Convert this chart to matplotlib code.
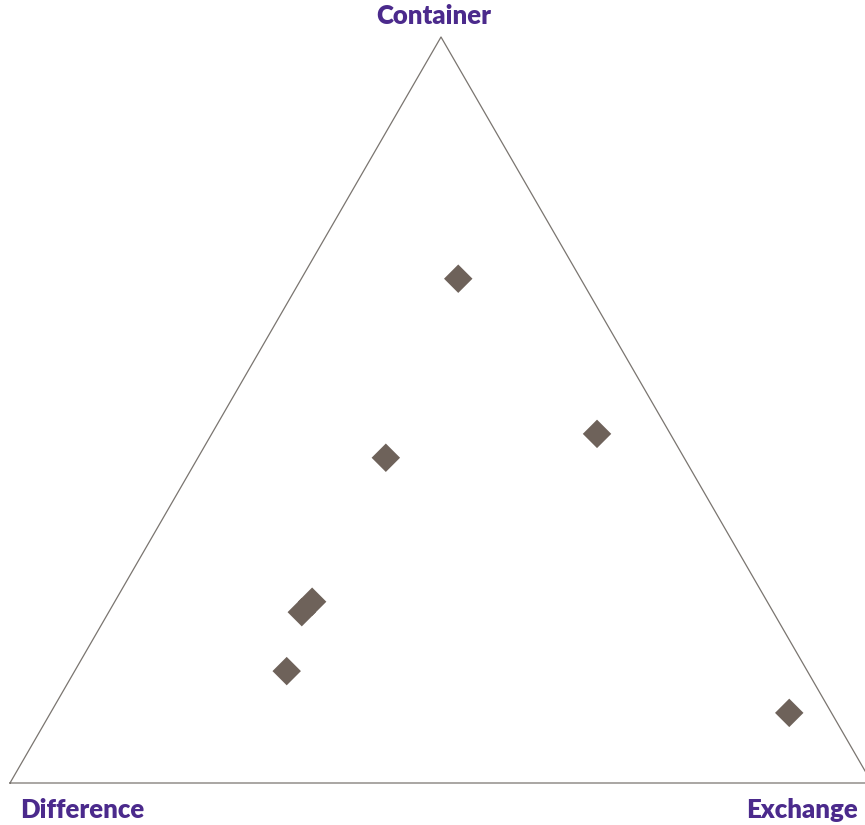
import numpy as np
import matplotlib.pyplot as plt

# ternary components for each point (fractions)
container = [0.676, 0.468, 0.436, 0.229, 0.243, 0.150, 0.094]
exchange = [0.182, 0.447, 0.218, 0.224, 0.229, 0.246, 0.857]
difference = [0.142, 0.085, 0.346, 0.547, 0.528, 0.604, 0.049]

corner_labels = ['Container', 'Difference', 'Exchange']

h = np.sqrt(3) / 2


def to_xy(c, e, d):
    c = np.asarray(c)
    e = np.asarray(e)
    d = np.asarray(d)
    tot = c + e + d
    c, e = c / tot, e / tot
    return e + c / 2, c * h


fig = plt.figure(figsize=(8.65, 8.25), dpi=100)
ax = fig.add_axes([0, 0, 1, 1])

# map data units so triangle base spans pixels 10..872 and height 37..783
px = 1 / 862
py = h / 746
ax.set_xlim(-10 * px, 855 * px)
ax.set_ylim(-42 * py, 783 * py)
ax.axis('off')

tri_x = [0, 1, 0.5, 0]
tri_y = [0, 0, h, 0]
ax.plot(tri_x, tri_y, color='#7a7570', lw=0.9, clip_on=False)

x, y = to_xy(container, exchange, difference)
ax.scatter(x, y, marker='D', s=210, color='#6e625a', edgecolors='none', zorder=3)

lab_style = dict(color='#4b2a8c', fontsize=18.5, fontweight='heavy', family='Lato')
fig.text(434 / 865, 1 - 16 / 825, corner_labels[0], ha='center', va='center', **lab_style)
fig.text(82 / 865, 1 - 810 / 825, corner_labels[1], ha='center', va='center', **lab_style)
fig.text(802 / 865, 1 - 810 / 825, corner_labels[2], ha='center', va='center', **lab_style)

fig.savefig('out.png', dpi=100)
